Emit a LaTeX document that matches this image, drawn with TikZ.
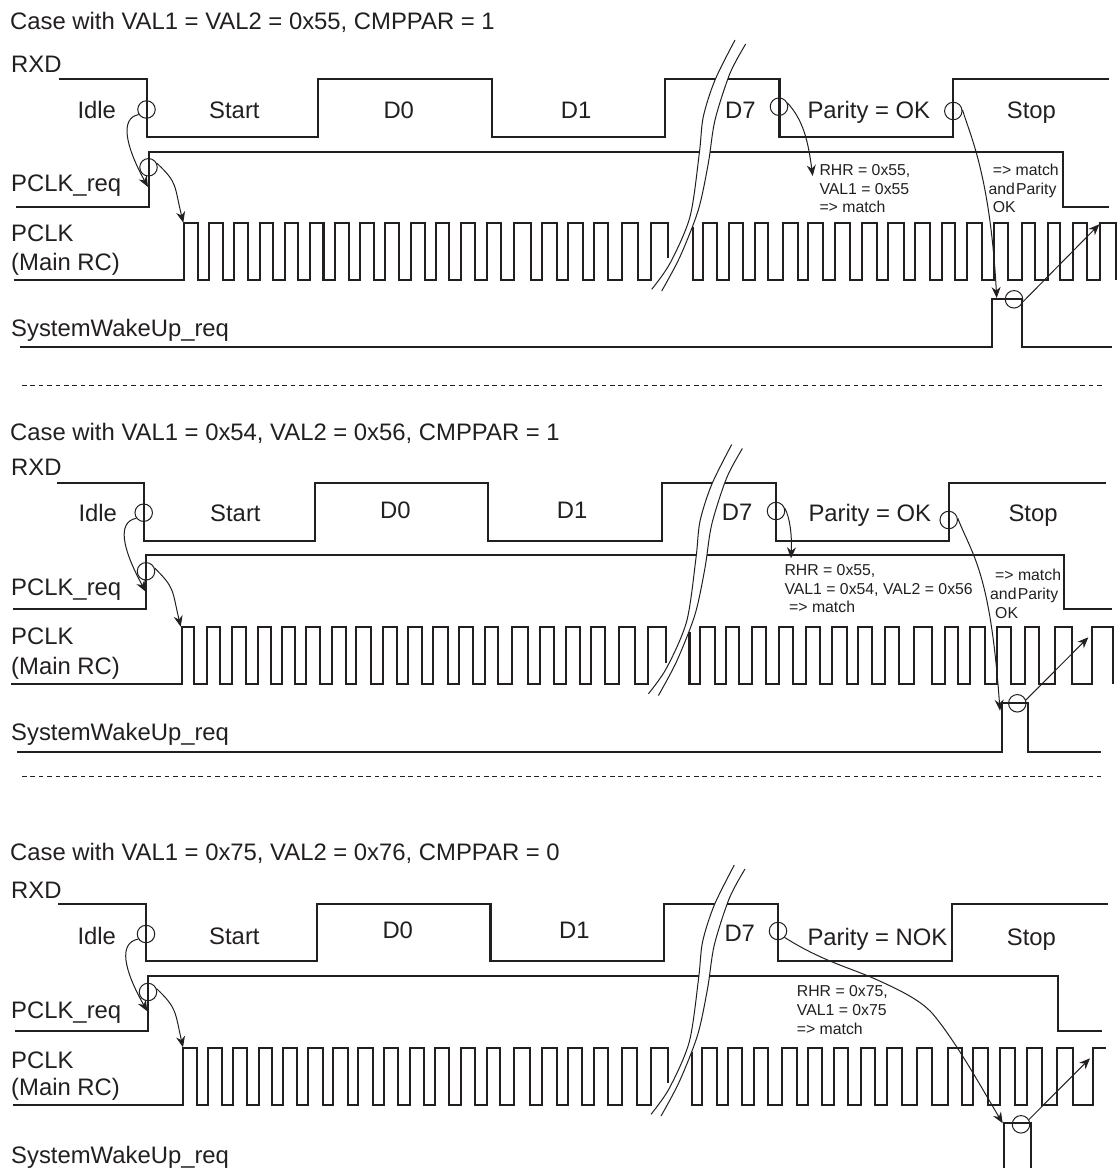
\documentclass[tikz,border=0pt]{standalone}
\usepackage{fontspec}
\setmainfont{Liberation Sans}
\usetikzlibrary{arrows.meta}
\definecolor{ink}{HTML}{231F20}
\newcommand{\bigtxt}{\fontsize{23.85}{26}\selectfont}
\newcommand{\smalltxt}{\fontsize{15.8}{18}\selectfont}
\newcommand{\breakmark}[1]{%
  \begin{scope}[shift={(#1)}]
    \fill[white] plot[smooth] coordinates {(735,40)(715,80)(703.3,116.7)(699.3,153.3)(690,216.7)(670,263.3)(651.7,289.3)}
      -- plot[smooth] coordinates {(661.7,291)(680,256.7)(698.3,210)(708.3,163.3)(715,120)(730,73.3)(745.7,44)} -- cycle;
    \draw[thinl] plot[smooth] coordinates {(735,40)(715,80)(703.3,116.7)(699.3,153.3)(690,216.7)(670,263.3)(651.7,289.3)};
    \draw[thinl] plot[smooth] coordinates {(661.7,291)(680,256.7)(698.3,210)(708.3,163.3)(715,120)(730,73.3)(745.7,44)};
  \end{scope}}
\newcommand{\clk}[3]{\foreach \r/\f in {#3}{ -- (\r,#2) -- (\r,#1) -- (\f,#1) -- (\f,#2)}}
\tikzset{
  sig/.style={draw=ink,line width=2.1pt,line join=miter},
  thinl/.style={draw=ink,line width=1pt},
  arr/.style={draw=ink,line width=1pt,-{Stealth[length=11pt,width=9pt]}},
  ring/.style={circle,draw=ink,line width=1pt,minimum size=17.5pt,inner sep=0pt},
  big/.style={anchor=base west,inner sep=0pt,text=ink,font=\bigtxt},
  small/.style={anchor=base west,inner sep=0pt,text=ink,font=\smalltxt},
  sep/.style={draw=ink,line width=0.8pt,dash pattern=on 4.6pt off 3.8pt}
}
\begin{document}
\begin{tikzpicture}[x=1pt,y=-1pt]
\useasboundingbox (0,0) rectangle (1117,1168);
% ---------- panel 1
\draw[sig] (59,79) -- (147,79) -- (147,137) -- (318,137) -- (318,79) -- (491.7,79) -- (491.7,137) -- (665,137) -- (665,79) -- (779.5,79) -- (779.5,137) -- (953,137) -- (953,79) -- (1109,79);
\draw[sig] (16,207) -- (149,207) -- (149,152) -- (1063,152) -- (1063,207) -- (1109,207);
\draw[sig] (14,280) \clk{223}{280}{184/198.3,209.3/223.3,234.3/248.3,260/273.3,285/298.3,309.6/323.5,334.6/349,359.6/374,385/399.3,410.7/425,435.7/449.3,461/475,486.7/501,514.3/530.7,542.3/557.3,568.3/582.7,594/608.3,621.7/638.3} -- (651,280) -- (651,223) -- (668,223) -- (668,258);
\draw[sig] (693,226.7) -- (693,280) \clk{223}{280}{702.7/717.3,728.7/743.3,755/768.3,782.7/798.3,808.3/823.3,835/850,861.7/876.7,888.3/904,915/930,941.7/955,966.7/981.7,994/1008.3,1021.7/1035,1047.7/1060,1073.3/1086.7,1100/1116};
\draw[sig] (20,347) -- (992,347) -- (992,299) -- (1022,299) -- (1022,347) -- (1112,347);
\breakmark{0,0}
\node[big] (t1) at (10,29) {Case with VAL1 = VAL2 = 0x55, CMPPAR = 1};
\node[big] (p1rxd) at (11,72.7) {RXD};
\node[big] (p1idle) at (77.3,118.3) {Idle};
\node[big] (p1start) at (209,118.3) {Start};
\node[big] (p1d0) at (383.3,118.3) {D0};
\node[big] (p1d1) at (560.7,118.3) {D1};
\node[big] (p1d7) at (725,118.3) {D7};
\node[big] (p1par) at (807.3,118.3) {Parity = OK};
\node[big] (p1stop) at (1006.7,118.3) {Stop};
\node[big] (p1req) at (11,191.7) {PCLK\_req};
\node[big] (p1clk) at (11,241.7) {PCLK};
\node[big] (p1rc) at (11,270.7) {(Main RC)};
\node[big] (p1sys) at (11,336.7) {SystemWakeUp\_req};
\node[small] (p1a) at (819.3,175) {RHR = 0x55,};
\node[small] (p1b) at (819.3,194) {VAL1 = 0x55};
\node[small] (p1c) at (819.3,212.7) {=> match};
\node[small] (p1d) at (992.7,175) {=> match};
\node[small] (p1e) at (988.3,194) {\spaceskip=0.08em and Parity};
\node[small] (p1f) at (992.7,212.7) {OK};
\node[ring] (p1c1) at (146.5,109.5) {};
\node[ring] (p1c2) at (148.5,167.3) {};
\node[ring] (p1c3) at (779,106.7) {};
\node[ring] (p1c4) at (953.3,111) {};
\node[ring] (p1c5) at (1014,299.3) {};
\coordinate (p1e1) at (148,187);
\coordinate (p1e2) at (183.3,222.7);
\coordinate (p1e3) at (812.7,176);
\coordinate (p1e4) at (996.7,298);
\coordinate (p1e5) at (1099.3,224.3);
\draw[arr] (p1c1.213) .. controls (120,118) and (125,145) .. (p1e1);
\draw[arr] (p1c2.27) .. controls (178,183) and (174,185) .. (p1e2);
\draw[arr] (p1c3.25) .. controls (803,120) and (808,140) .. (p1e3);
\draw[arr] (p1c4.7) .. controls (970,135) and (990,175) .. (p1e4);
\draw[arr] (p1c5.-16) -- (p1e5);
\coordinate (s1a) at (22,385);
\coordinate (s1b) at (1103,385);
\draw[sep] (s1a) -- (s1b);
% ---------- panel 2
\draw[sig] (56.7,483) -- (144.3,483) -- (144.3,541) -- (315,541) -- (315,483) -- (488,483) -- (488,541) -- (661.7,541) -- (661.7,483) -- (776,483) -- (776,541) -- (949.3,541) -- (949.3,483) -- (1105.7,483);
\draw[sig] (12.7,609) -- (146,609) -- (146,555) -- (1064.3,555) -- (1064.3,609) -- (1111.7,609);
\draw[sig] (11,684) \clk{627}{684}{181.7/194.3,206.7/220,232.3/245.7,257.7/270.7,281.7/295,306/320,331.7/346,356/370.7,383.3/396.7,408.3/421.7,433.3/447.7,459.3/472.7,485/498.3,512.3/528.3,540/554,565.7/580,591/605,619/635} -- (648.3,684) -- (648.3,627) -- (666,627) -- (666,662.7);
\draw[sig] (689.5,631.7) -- (689.5,684) \clk{627}{684}{700/715,726/739.3,751.7/765.7,779.3/793.3,806/820,831.7/846.7,858.3/872.3,885/899.3,914/931.7,945/958.3,970/985,996.7/1010.7,1025/1039.3,1055/1071.7,1091.7/1112.7};
\draw[sig] (17,752) -- (1001.7,752) -- (1001.7,703) -- (1028.3,703) -- (1028.3,752) -- (1100.7,752);
\breakmark{-3.3,404.5}
\node[big] (t2) at (10,440) {Case with VAL1 = 0x54, VAL2 = 0x56, CMPPAR = 1};
\node[big] (p2rxd) at (11,475.7) {RXD};
\node[big] (p2idle) at (78.3,521.7) {Idle};
\node[big] (p2start) at (210,521.7) {Start};
\node[big] (p2d0) at (380,518.3) {D0};
\node[big] (p2d1) at (556.7,518.3) {D1};
\node[big] (p2d7) at (721.7,520) {D7};
\node[big] (p2par) at (808.3,521.7) {Parity = OK};
\node[big] (p2stop) at (1008.3,521.7) {Stop};
\node[big] (p2req) at (11,595) {PCLK\_req};
\node[big] (p2clk) at (11,644.3) {PCLK};
\node[big] (p2rc) at (11,674) {(Main RC)};
\node[big] (p2sys) at (11,740) {SystemWakeUp\_req};
\node[small] (p2a) at (784.3,575) {RHR = 0x55,};
\node[small] (p2b) at (784.3,594) {VAL1 = 0x54, VAL2 = 0x56};
\node[small] (p2c) at (789,612.7) {=> match};
\node[small] (p2d) at (995,580) {=> match};
\node[small] (p2e) at (990,599.3) {\spaceskip=0.08em and Parity};
\node[small] (p2f) at (995,618.3) {OK};
\node[ring] (p2c1) at (143.7,512.7) {};
\node[ring] (p2c2) at (146,571.3) {};
\node[ring] (p2c3) at (776,511) {};
\node[ring] (p2c4) at (948.7,520) {};
\node[ring] (p2c5) at (1017.3,703.3) {};
\coordinate (p2e1) at (145.7,591.7);
\coordinate (p2e2) at (180.7,626.7);
\coordinate (p2e3) at (791,558.3);
\coordinate (p2e4) at (1000,710.7);
\coordinate (p2e5) at (1088.3,637.3);
\draw[arr] (p2c1.217) .. controls (117,522) and (122,548) .. (p2e1);
\draw[arr] (p2c2.20) .. controls (175,588) and (172,590) .. (p2e2);
\draw[arr] (p2c3.19) .. controls (790,518) and (792,535) .. (p2e3);
\draw[arr] (p2c4.11) .. controls (972,555) and (990,570) .. (p2e4);
\draw[arr] (p2c5.21) -- (p2e5);
\coordinate (s2a) at (22,776);
\coordinate (s2b) at (1101,776);
\draw[sep] (s2a) -- (s2b);
% ---------- panel 3
\draw[sig] (58.3,904) -- (146,904) -- (146,961) -- (317.3,961) -- (317.3,904) -- (490.5,904) -- (490.5,961) -- (664,961) -- (664,904) -- (778.3,904) -- (778.3,961) -- (951.7,961) -- (951.7,904) -- (1107.7,904);
\draw[sig] (15.3,1031) -- (148.3,1031) -- (148.3,976) -- (1058.3,976) -- (1058.3,1031) -- (1102.3,1031);
\draw[sig] (13,1105) \clk{1048}{1105}{183.3/196.7,208.3/221.7,233.3/246.7,259.3/271.7,283.3/296.7,308.3/322.7,333.3/348.3,358.3/372.7,384/398.3,410/424,435/449.3,460.7/475,486.7/500,514.3/530,541.7/556.7,567.7/582.3,594/608.3,621.7/637.3} -- (651,1105) -- (651,1048) -- (668.3,1048) -- (668.3,1082.7);
\draw[sig] (691.7,1051.7) -- (691.7,1105) \clk{1048}{1105}{701.7/716.7,728.3/741.7,754.3/768.3,781.7/796.7,807.7/821.7,834.3/848.3,860.7/875,886.7/901.7,916.7/931.7,948.3/961.7,973.3/988.3,1000/1015,1026.7/1041.7,1056.7/1073.3} -- (1093.3,1105) -- (1093.3,1048) -- (1105.7,1048);
\draw[sig] (1004,1168) -- (1004,1123.3) -- (1030.7,1123.3) -- (1030.7,1168);
\breakmark{-0.7,825}
\node[big] (t3) at (10,860.7) {Case with VAL1 = 0x75, VAL2 = 0x76, CMPPAR = 0};
\node[big] (p3rxd) at (11,898) {RXD};
\node[big] (p3idle) at (77.3,944.7) {Idle};
\node[big] (p3start) at (209,944.7) {Start};
\node[big] (p3d0) at (382.3,938) {D0};
\node[big] (p3d1) at (559,938) {D1};
\node[big] (p3d7) at (724.3,941) {D7};
\node[big] (p3par) at (807.3,945) {Parity = NOK};
\node[big] (p3stop) at (1006.7,945) {Stop};
\node[big] (p3req) at (11,1018) {PCLK\_req};
\node[big] (p3clk) at (11,1068) {PCLK};
\node[big] (p3rc) at (11,1095.3) {(Main RC)};
\node[big] (p3sys) at (11,1163) {SystemWakeUp\_req};
\node[small] (p3a) at (796.7,996) {RHR = 0x75,};
\node[small] (p3b) at (796.7,1015) {VAL1 = 0x75};
\node[small] (p3c) at (796.7,1034) {=> match};
\node[ring] (p3c1) at (146,934) {};
\node[ring] (p3c2) at (148,992) {};
\node[ring] (p3c3) at (778,931) {};
\node[ring] (p3c4) at (1021,1124.3) {};
\coordinate (p3e1) at (147.3,1011.3);
\coordinate (p3e2) at (183,1047.3);
\coordinate (p3e3) at (1002.7,1123.3);
\coordinate (p3e4) at (1090,1058.3);
\draw[arr] (p3c1.213) .. controls (118,943) and (124,970) .. (p3e1);
\draw[arr] (p3c2.21) .. controls (177,1008) and (175,1012) .. (p3e2);
\draw[arr] (p3c3.-44) .. controls (820,960) and (850,968) .. (873,978) .. controls (900,990) and (920,1000) .. (932,1013) .. controls (955,1040) and (980,1085) .. (p3e3);
\draw[arr] (p3c4.31) -- (p3e4);
\end{tikzpicture}
\end{document}
